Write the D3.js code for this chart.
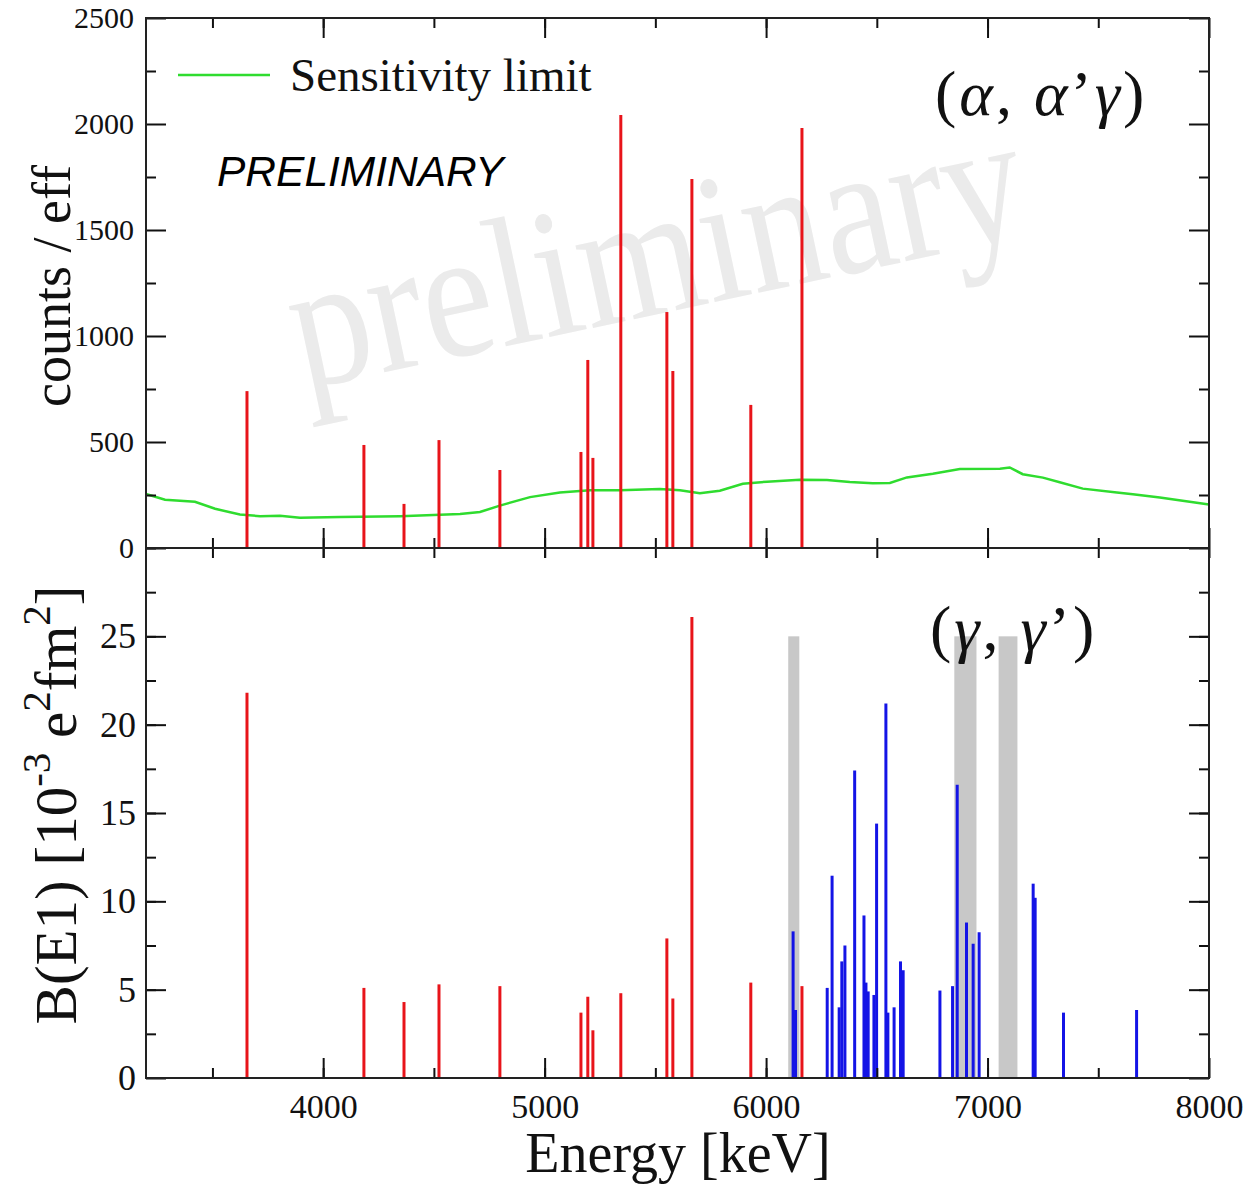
<!DOCTYPE html>
<html>
<head>
  <meta charset="utf-8">
  <title>B(E1) comparison</title>
  <style type="text/css">
    body { margin: 0; background: white; }
    .serif { font-family: "Liberation Serif", "Times New Roman", serif; fill: #111; }
    .tick line { stroke: #111; stroke-width: 2; }
    .tick text { font-family: "Liberation Serif", "Times New Roman", serif !important; }
    .frame { fill: none; stroke: #222; stroke-width: 2; }
  </style>
</head>
<body>
<script src="https://cdnjs.cloudflare.com/ajax/libs/d3/7.8.5/d3.min.js"></script>
<script>
// (alpha, alpha' gamma) lines: energy [keV] and counts / eff
var alphaEnergy = [3656, 4184, 4365, 4523, 4798, 5164, 5195, 5218, 5344, 5552, 5579, 5665, 5931, 6162];
var alphaCounts = [740, 486, 208, 509, 368, 453, 887, 425, 2042, 1113, 835, 1741, 675, 1981];
// same states seen in (gamma, gamma') -> B(E1) in 10^-3 e^2fm^2
var alphaBE1 = [21.8, 5.1, 4.3, 5.3, 5.2, 3.7, 4.6, 2.7, 4.8, 7.9, 4.5, 26.1, 5.4, 5.2];

// states only seen in (gamma, gamma')
var gammaEnergy = [6122, 6133, 6276, 6298, 6330, 6342, 6356, 6400, 6442, 6451, 6461, 6487, 6499, 6541,
                   6550, 6578, 6607, 6619, 6785, 6842, 6863, 6905, 6935, 6962, 7206, 7215, 7343, 7673];
var gammaBE1 = [8.3, 3.85, 5.1, 11.45, 4.0, 6.6, 7.5, 17.4, 9.2, 5.4, 4.9, 4.7, 14.4, 21.2,
                3.7, 4.0, 6.6, 6.1, 4.95, 5.2, 16.6, 8.8, 7.6, 8.25, 11.0, 10.2, 3.7, 3.85];

// grey bands (energy ranges) in lower panel
var bandStart = [6100, 6850, 7050];
var bandEnd = [6150, 6950, 7135];
var bandTop = 25;

// sensitivity limit curve
var sensEnergy = [3200, 3286, 3421, 3512, 3624, 3715, 3805, 3895, 4076, 4347, 4618, 4708, 4798, 4934, 5069,
                  5205, 5340, 5520, 5611, 5701, 5791, 5895, 6004, 6153, 6275, 6378, 6482, 6559, 6636, 6753,
                  6875, 7056, 7100, 7159, 7250, 7326, 7430, 7584, 7656, 7778, 8000];
var sensCounts = [255, 228, 218, 185, 158, 150, 152, 143, 146, 150, 160, 170, 200, 240, 262,
                  272, 272, 278, 272, 258, 270, 303, 313, 322, 321, 311, 305, 307, 333, 350,
                  373, 374, 380, 348, 332, 310, 280, 262, 253, 238, 205];

var xTicks = [4000, 5000, 6000, 7000, 8000];
var topTicks = [0, 500, 1000, 1500, 2000, 2500];
var botTicks = [0, 5, 10, 15, 20, 25];

var W = 1251, H = 1184;
var L = 146, R = 1209, T = 18, MID = 548, B = 1078;
var SERIF = '"Liberation Serif", "Times New Roman", serif';

var svg = d3.select('body').append('svg')
  .attr('width', W)
  .attr('height', H);

var x = d3.scaleLinear().domain([3200, 8000]).range([L, R]);
var yTop = d3.scaleLinear().domain([0, 2500]).range([MID, T]);
var yBot = d3.scaleLinear().domain([0, 30]).range([B, MID]);

// watermark
svg.append('text')
  .attr('class', 'serif')
  .attr('transform', 'translate(668,312) rotate(-12) scale(1,1.15)')
  .attr('text-anchor', 'middle')
  .style('font-size', '160px')
  .style('fill', '#ebebeb')
  .text('preliminary');

// grey bands
svg.selectAll('rect.band')
  .data(bandStart)
  .enter().append('rect')
  .attr('class', 'band')
  .attr('x', function(d){ return x(d); })
  .attr('width', function(d, i){ return x(bandEnd[i]) - x(d); })
  .attr('y', yBot(bandTop))
  .attr('height', yBot(0) - yBot(bandTop))
  .attr('fill', '#c8c8c8');

// sensitivity limit
var line = d3.line()
  .x(function(d, i){ return x(sensEnergy[i]); })
  .y(function(d){ return yTop(d); });
svg.append('path')
  .attr('d', line(sensCounts))
  .attr('fill', 'none')
  .attr('stroke', '#2fdc2f')
  .attr('stroke-width', 2.5);

// red lines, top panel
svg.selectAll('line.atop')
  .data(alphaCounts)
  .enter().append('line')
  .attr('class', 'atop')
  .attr('x1', function(d, i){ return x(alphaEnergy[i]); })
  .attr('x2', function(d, i){ return x(alphaEnergy[i]); })
  .attr('y1', yTop(0))
  .attr('y2', function(d){ return yTop(d); })
  .attr('stroke', '#e8141a')
  .attr('stroke-width', 3);

// red lines, bottom panel
svg.selectAll('line.abot')
  .data(alphaBE1)
  .enter().append('line')
  .attr('class', 'abot')
  .attr('x1', function(d, i){ return x(alphaEnergy[i]); })
  .attr('x2', function(d, i){ return x(alphaEnergy[i]); })
  .attr('y1', yBot(0))
  .attr('y2', function(d){ return yBot(d); })
  .attr('stroke', '#e8141a')
  .attr('stroke-width', 3);

// blue lines
svg.selectAll('line.gbot')
  .data(gammaBE1)
  .enter().append('line')
  .attr('class', 'gbot')
  .attr('x1', function(d, i){ return x(gammaEnergy[i]); })
  .attr('x2', function(d, i){ return x(gammaEnergy[i]); })
  .attr('y1', yBot(0))
  .attr('y2', function(d){ return yBot(d); })
  .attr('stroke', '#1414e6')
  .attr('stroke-width', 3);

// axes: major + minor ticks, all pointing inwards
function ticks(axis, values, size, pos, labels, fs, pad) {
  var g = svg.append('g')
    .attr('transform', pos)
    .call(axis.tickValues(values).tickSize(-size).tickPadding(pad || 10)
      .tickFormat(labels ? d3.format('d') : ''));
  g.select('.domain').remove();
  g.attr('font-family', SERIF);
  if (fs) g.selectAll('text').style('font-size', fs + 'px').attr('fill', '#111');
  return g;
}
var minorX = d3.range(3500, 8000, 500);
var minorTop = d3.range(250, 2500, 500);
var minorBot = d3.range(2.5, 30, 2.5);

// top panel
ticks(d3.axisLeft(yTop), topTicks, 20, 'translate(' + L + ',0)', true, 30, 12);
ticks(d3.axisLeft(yTop), minorTop, 10, 'translate(' + L + ',0)');
ticks(d3.axisRight(yTop), topTicks, 20, 'translate(' + R + ',0)');
ticks(d3.axisRight(yTop), minorTop, 10, 'translate(' + R + ',0)');
ticks(d3.axisTop(x), xTicks, 20, 'translate(0,' + T + ')');
ticks(d3.axisTop(x), minorX, 10, 'translate(0,' + T + ')');
ticks(d3.axisBottom(x), xTicks, 20, 'translate(0,' + MID + ')');
ticks(d3.axisBottom(x), minorX, 10, 'translate(0,' + MID + ')');

// bottom panel
ticks(d3.axisLeft(yBot), botTicks, 20, 'translate(' + L + ',0)', true, 36, 10);
ticks(d3.axisLeft(yBot), [30].concat(minorBot), 10, 'translate(' + L + ',0)');
ticks(d3.axisRight(yBot), botTicks, 20, 'translate(' + R + ',0)');
ticks(d3.axisRight(yBot), minorBot, 10, 'translate(' + R + ',0)');
ticks(d3.axisTop(x), xTicks, 10, 'translate(0,' + MID + ')');
ticks(d3.axisTop(x), minorX, 10, 'translate(0,' + MID + ')');
ticks(d3.axisBottom(x), xTicks, 20, 'translate(0,' + B + ')', true, 34, 16);
ticks(d3.axisBottom(x), minorX, 10, 'translate(0,' + B + ')');

// frames
svg.append('rect').attr('class', 'frame')
  .attr('x', L).attr('y', T).attr('width', R - L).attr('height', MID - T);
svg.append('rect').attr('class', 'frame')
  .attr('x', L).attr('y', MID).attr('width', R - L).attr('height', B - MID);

// legend
svg.append('line')
  .attr('x1', 178).attr('x2', 270).attr('y1', 75).attr('y2', 75)
  .attr('stroke', '#2fdc2f').attr('stroke-width', 2.5);
svg.append('text').attr('class', 'serif')
  .attr('x', 290).attr('y', 91)
  .style('font-size', '47px')
  .text('Sensitivity limit');

svg.append('text')
  .attr('x', 217).attr('y', 186)
  .style('font-family', '"Liberation Sans", Arial, sans-serif')
  .style('font-style', 'italic')
  .style('font-size', '42.5px')
  .text('PRELIMINARY');

// reaction labels
function reaction(xp, yp, parts) {
  var t = svg.append('text').attr('class', 'serif')
    .attr('x', xp).attr('y', yp)
    .style('font-size', '64px')
    .style('letter-spacing', '3px');
  parts.forEach(function(p){
    t.append('tspan').style('font-style', p[1] ? 'italic' : 'normal').text(p[0]);
  });
}
reaction(935, 115, [['(', 0], ['\u03b1', 1], [', ', 0], ['\u03b1', 1], ['\u2019', 0], ['\u03b3', 1], [')', 0]]);
reaction(930, 650, [['(', 0], ['\u03b3', 1], [', ', 0], ['\u03b3', 1], ['\u2019', 0], [')', 0]]);

// axis titles
svg.append('text').attr('class', 'serif')
  .attr('transform', 'translate(70,286) rotate(-90)')
  .attr('text-anchor', 'middle')
  .style('font-size', '54px')
  .text('counts / eff');

var yl = svg.append('text').attr('class', 'serif')
  .attr('transform', 'translate(76,805) rotate(-90)')
  .attr('text-anchor', 'middle')
  .style('font-size', '59px');
yl.append('tspan').text('B(E1) [10');
yl.append('tspan').attr('dy', -26).style('font-size', '41px').text('-3');
yl.append('tspan').attr('dy', 26).text(' e');
yl.append('tspan').attr('dy', -26).style('font-size', '41px').text('2');
yl.append('tspan').attr('dy', 26).text('fm');
yl.append('tspan').attr('dy', -26).style('font-size', '41px').text('2');
yl.append('tspan').attr('dy', 26).text(']');

svg.append('text').attr('class', 'serif')
  .attr('x', 678).attr('y', 1172)
  .attr('text-anchor', 'middle')
  .style('font-size', '56px')
  .text('Energy [keV]');
</script>
</body>
</html>
